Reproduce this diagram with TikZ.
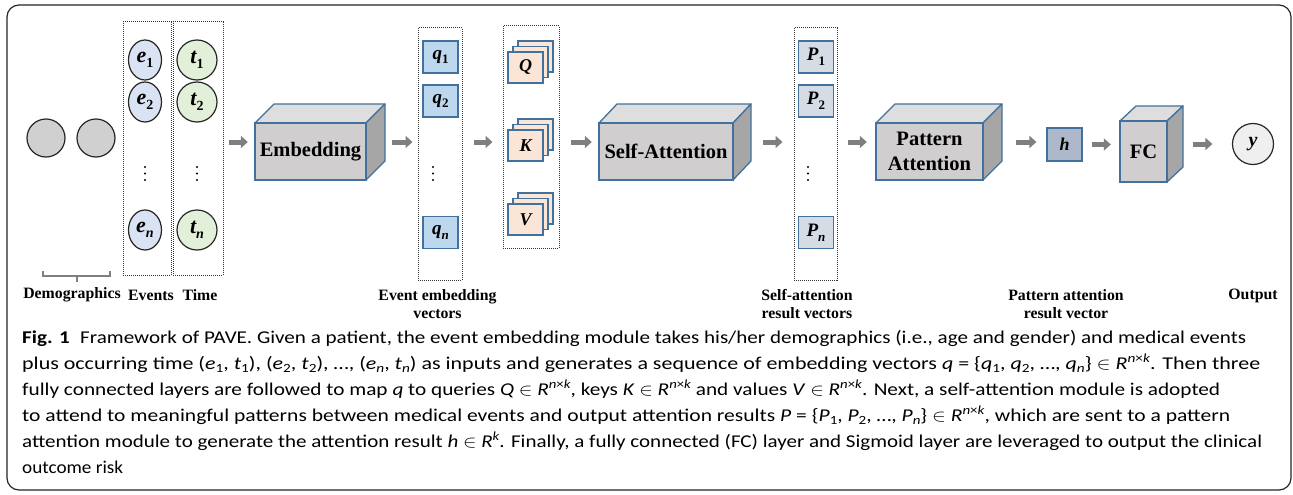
\documentclass[tikz,border=0pt]{standalone}
\usepackage{fontspec}
\usepackage{graphicx}
\setmainfont{Liberation Serif}
\newfontfamily\capfont{Carlito}
\usetikzlibrary{arrows.meta,shapes.geometric}

\definecolor{bordc}{HTML}{41719C}
\definecolor{frontc}{HTML}{D0CECE}
\definecolor{topc}{HTML}{DEDEDE}
\definecolor{sidec}{HTML}{A6A6A6}
\definecolor{efill}{HTML}{DAE3F3}
\definecolor{tfill}{HTML}{E2F0D9}
\definecolor{qfill}{HTML}{BDD7EE}
\definecolor{kfill}{HTML}{FBE5D6}
\definecolor{pfill}{HTML}{D6DCE5}
\definecolor{hfill}{HTML}{ADB9CA}
\definecolor{dfill}{HTML}{D0D0D0}
\definecolor{yfill}{HTML}{EFEFEF}
\definecolor{agray}{HTML}{7F7F7F}

\newsavebox\capbox
\newcommand\fitline[2]{\sbox\capbox{#2}\pgfmathsetmacro\fitscale{#1pt/\the\wd\capbox}\scalebox{\fitscale}[1]{\usebox\capbox}}
% bold italic variable with subscript (diagram)
\newcommand\iv[3][13]{{\bfseries\itshape #2}\raisebox{-0.25em}{\fontsize{#1}{#1}\selectfont\bfseries #3}}
% caption variable with subscript
\newcommand\cv[2]{\textit{#1}\raisebox{-3pt}{\fontsize{12.5}{12}\selectfont #2}}
\newcommand\sq[1]{\raisebox{6.5pt}{\fontsize{12.5}{12}\selectfont #1}}
\newcommand\Rnk{\textit{R}\sq{\textit{n}×\textit{k}}}

\newcommand\cube[8]{%
  \filldraw[fill=topc, draw=bordc, line width=1.3pt, line join=round] (#2,#3) -- ({#2+#6},{#3-#7}) -- ({#4+#6},{#3-#7}) -- (#4,#3) -- cycle;
  \filldraw[fill=sidec, draw=bordc, line width=1.3pt, line join=round] (#4,#3) -- ({#4+#6},{#3-#7}) -- ({#4+#6},{#5-#7}) -- (#4,#5) -- cycle;
  \filldraw[fill=frontc, draw=bordc, line width=1.3pt] (#2,#3) rectangle (#4,#5);
  \node[inner sep=0, minimum width={#4+#6-#2}, minimum height={#5-#3+#7}] (#1) at ({(#2+#4+#6)/2},{(#3-#7+#5)/2}) {};
  \node[blocktext] (#1-t) at ({(#2+#4)/2},{(#3+#5)/2}) {#8};
}
\newcommand\stackbox[4]{%
  \foreach \o in {10,5} \filldraw[fill=kfill, draw=bordc, line width=1.2pt] ({#2+\o},{#3-1.1*\o}) rectangle ++(35,31);
  \node[kbox] (#1) at ({#2+17.5},{#3+15.5}) {#4};
}

\tikzset{
  blocktext/.style={align=center, inner sep=0, font=\bfseries\fontsize{20.5}{25}\selectfont},
  lab/.style={align=center, inner sep=0, font=\bfseries\fontsize{15.8}{18}\selectfont},
  dcirc/.style={circle, minimum size=38, inner sep=0, fill=dfill, draw=black!85, line width=1.2pt},
  enode/.style={ellipse, minimum width=33, minimum height=40, inner sep=0, fill=efill, draw=black!85, line width=1.2pt, font=\fontsize{22}{22}\selectfont},
  tnode/.style={circle, minimum size=40, inner sep=0, fill=tfill, draw=black!85, line width=1.2pt, font=\fontsize{22}{22}\selectfont},
  dotbox/.style={rectangle, densely dotted, draw=black!80, line width=1pt, inner sep=0},
  qbox/.style={rectangle, minimum width=35, minimum height=32, inner sep=0, fill=qfill, draw=bordc, line width=1.2pt, font=\fontsize{19}{19}\selectfont},
  pbox/.style={qbox, fill=pfill},
  kbox/.style={rectangle, minimum width=35, minimum height=31, inner sep=0, fill=kfill, draw=bordc, line width=1.2pt, font=\bfseries\itshape\fontsize{18}{18}\selectfont},
  hbox/.style={rectangle, minimum width=35, minimum height=33, inner sep=0, fill=hfill, draw=bordc, line width=1.2pt, font=\bfseries\itshape\fontsize{18}{18}\selectfont},
  ycirc/.style={circle, minimum size=41, inner sep=0, fill=yfill, draw=black!85, line width=1.2pt, font=\bfseries\itshape\fontsize{20}{20}\selectfont},
  garrow/.style={draw=agray, line width=5pt, -{Triangle[length=7pt,width=12pt]}},
  capline/.style={anchor=base west, inner sep=0, font=\capfont\fontsize{18}{20}\selectfont},
}

\begin{document}
\begin{tikzpicture}[x=1pt,y=-1pt]
\useasboundingbox (0,0) rectangle (1293,495);
\fill[white] (0,0) rectangle (1293,495);
\draw[rounded corners=12pt, line width=1.2pt, black!85] (7,5) rectangle (1291,490);

% demographics
\node[dcirc] (d1) at (46,138) {};
\node[dcirc] (d2) at (96,138) {};
\draw[agray, line width=1.2pt] (43,271) -- (43,276) -- (110,276) -- (110,271);
\draw[agray, line width=1.2pt] (77,276) -- (77,282);

% events / time
\node[dotbox, minimum width=48, minimum height=253] (evbox) at (147,148.5) {};
\node[dotbox, minimum width=50, minimum height=253] (tbox) at (198,148.5) {};
\node[enode] (e1) at (145,60) {\iv[14]{e}{1}};
\node[enode] (e2) at (145,102) {\iv[14]{e}{2}};
\node[enode] (en) at (145,230) {\iv[14]{e}{\itshape n}};
\node[tnode] (t1) at (197,60) {\iv[14]{t}{1}};
\node[tnode] (t2) at (197,102) {\iv[14]{t}{2}};
\node[tnode] (tn) at (197,230) {\iv[14]{t}{\itshape n}};

% embedding
\cube{emb}{255}{123}{366}{180}{19}{19}{Embedding}

% q vectors
\node[dotbox, minimum width=44, minimum height=252] (qcol) at (440,154) {};
\node[qbox] (q1) at (440.5,57) {\iv{q}{1}};
\node[qbox] (q2) at (440.5,101) {\iv{q}{2}};
\node[qbox] (qn) at (440.5,232.5) {\iv{q}{\itshape n}};

% Q K V
\node[dotbox, minimum width=56, minimum height=222] (qkv) at (531,137) {};
\stackbox{Q}{508}{52}{Q}
\stackbox{K}{508}{130}{K}
\stackbox{V}{508}{204}{V}

% self attention
\cube{sa}{599}{123}{733}{180}{18}{19}{Self-Attention}

% P vectors
\node[dotbox, minimum width=43, minimum height=252] (pcol) at (815.5,154) {};
\node[pbox] (p1) at (816,57) {\iv{P}{1}};
\node[pbox] (p2) at (816,101) {\iv{P}{2}};
\node[pbox] (pn) at (816,232.5) {\iv{P}{\itshape n}};

% pattern attention
\cube{pa}{876}{123}{983}{180}{19}{19}{Pattern\\Attention}

\node[hbox] (h) at (1064.5,144.5) {h};

\cube{fc}{1120}{121}{1167}{182}{16}{15}{FC}

\node[ycirc] (y) at (1253,144) {y};

% vertical dots
\foreach \x in {145,197,433,808} \foreach \yy in {167,173.5,180} \fill (\x,\yy) circle (1.2);

% arrows
\draw[garrow, shorten <=5pt, shorten >=7pt] (tbox.east |- emb.center) -- (emb.west);
\draw[garrow, shorten <=7pt, shorten >=5pt] (emb.east) -- (qcol.west |- emb.east);
\draw[garrow, shorten <=11pt, shorten >=10pt] (qcol.east |- emb.east) -- (qkv.west |- emb.east);
\draw[garrow, shorten <=11pt, shorten >=7pt] (qkv.east |- sa.west) -- (sa.west);
\draw[garrow, shorten <=12pt, shorten >=11pt] (sa.east) -- (pcol.west |- sa.east);
\draw[garrow, shorten <=10pt, shorten >=9pt] (pcol.east |- pa.west) -- (pa.west);
\draw[garrow, shorten <=14pt, shorten >=10pt] (pa.east) -- (h.west |- pa.east);
\draw[garrow, shorten <=9pt, shorten >=9pt] (h.east) -- (fc.west |- h.east);
\draw[garrow, shorten <=10pt, shorten >=19.5pt] (fc.east) -- (y.west);

% labels
\node[lab] (l-demo) at (72,295) {Demographics};
\node[lab] (l-ev) at (151,295) {Events};
\node[lab] (l-time) at (200,295) {Time};
\node[lab] (l-emb) at (437.5,304) {Event embedding\\vectors};
\node[lab] (l-sa) at (807,304) {Self-attention\\result vectors};
\node[lab] (l-pa) at (1066,304) {Pattern attention\\result vector};
\node[lab] (l-out) at (1253,296) {Output};

% caption
\node[capline] (c1) at (22,343) {\fitline{1224}{\textbf{Fig. 1}\hspace{9pt}Framework of PAVE. Given a patient, the event embedding module takes his/her demographics (i.e., age and gender) and medical events}};
\node[capline] (c2) at (22,369) {\fitline{1238}{plus occurring time (\cv{e}{1}, \cv{t}{1}), (\cv{e}{2}, \cv{t}{2}), \ldots, (\cv{e}{\textit{n}}, \cv{t}{\textit{n}}) as inputs and generates a sequence of embedding vectors \textit{q} = \{\cv{q}{1}, \cv{q}{2}, \ldots, \cv{q}{\textit{n}}\} $\in$ \Rnk. Then three}};
\node[capline] (c3) at (22,395) {\fitline{1198}{fully connected layers are followed to map \textit{q} to queries \textit{Q} $\in$ \Rnk, keys \textit{K} $\in$ \Rnk\ and values \textit{V} $\in$ \Rnk. Next, a self-attention module is adopted}};
\node[capline] (c4) at (22,421) {\fitline{1208}{to attend to meaningful patterns between medical events and output attention results \textit{P} = \{\cv{P}{1}, \cv{P}{2}, \ldots, \cv{P}{\textit{n}}\} $\in$ \Rnk, which are sent to a pattern}};
\node[capline] (c5) at (22,447) {\fitline{1240}{attention module to generate the attention result \textit{h} $\in$ \textit{R}\sq{\textit{k}}. Finally, a fully connected (FC) layer and Sigmoid layer are leveraged to output the clinical}};
\node[capline] (c6) at (22,473) {\fitline{101}{outcome risk}};
\end{tikzpicture}
\end{document}
